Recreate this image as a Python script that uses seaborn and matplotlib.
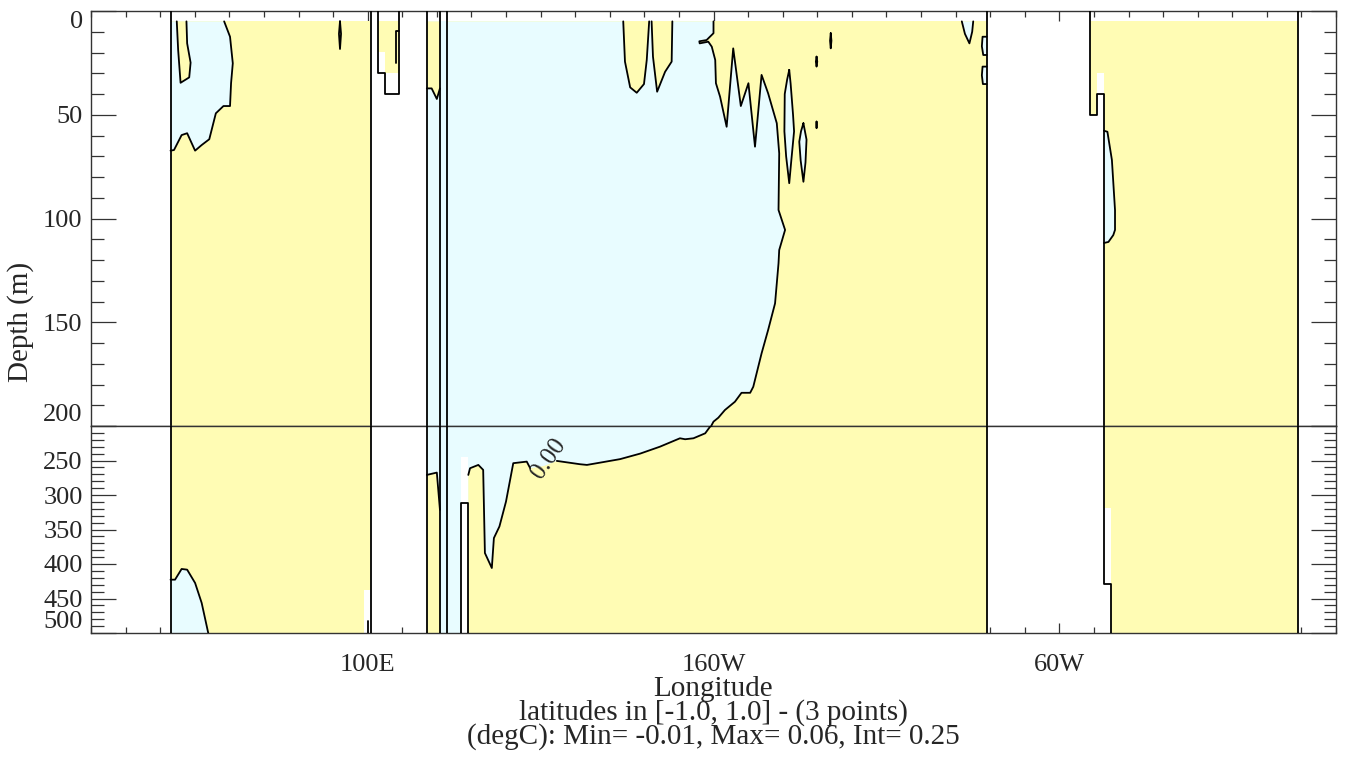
import numpy as np
import matplotlib
matplotlib.use("Agg")
import matplotlib.pyplot as plt
import seaborn as sns

# ---------------- data (lon in degrees east, depth in m) ----------------
xtick_pos = [100, 200, 300]
xtick_lab = ["100E", "160W", "60W"]
ytick_top = [0, 50, 100, 150, 200]
ytick_bot = [200, 250, 300, 350, 400, 450, 500]

# ocean basins with data (positive field, yellow)
indian_lon = [43.0, 101.0, 101.0, 43.0]
indian_dep = [5, 5, 500, 500]
sunda_lon = [102.9, 109.1, 109.1, 105.0, 105.0, 102.9]
sunda_dep = [5, 5, 29.9, 29.9, 19.9, 19.9]
pacific_lon = [123.0, 279.0, 279.0, 123.0]
pacific_dep = [5, 5, 500, 500]
atlantic_lon = [308.9, 369.0, 369.0, 315.0, 315.0, 312.9, 312.9, 310.9, 310.9, 308.9]
atlantic_dep = [5, 5, 500, 500, 428.5, 428.5, 40, 40, 50.1, 50.1]

# narrow straits column (negative background)
strait_lon = [117.1, 123.0, 123.0, 117.1]
strait_dep = [5, 5, 500, 500]

# zero isoline pieces
ind_top_lon = [58.5, 60.2, 61.0, 60.5, 60.2, 58.3, 56.1, 54.2, 52.0, 50.1, 47.8, 46.2, 44.0, 43.0]
ind_top_dep = [5, 12.4, 25.2, 34.8, 45.8, 45.8, 49.3, 61.8, 64.6, 67.3, 58.9, 59.8, 67.0, 67.3]
ind_fin_lon = [44.8, 45.2, 45.9, 48.4, 48.8, 47.8, 47.6]
ind_fin_dep = [5, 18.8, 34.6, 32.0, 24.9, 15.6, 5]
ind_bot_lon = [43.0, 44.3, 46.2, 47.8, 50.1, 52.0, 53.9]
ind_bot_dep = [422.7, 422.7, 407.2, 408.2, 427.5, 456.4, 500]
str_top_lon = [117.1, 118.5, 120.0, 120.9]
str_top_dep = [37.3, 37.3, 42.4, 37.3]
str_bot_lon = [117.1, 120.0, 120.9]
str_bot_dep = [270.9, 267.5, 321.5]
pac_w_lon = [129.1, 129.6, 132.0, 133.4, 133.9, 135.9, 136.5, 138.1, 140.0, 142.1, 146.0, 147.0]
pac_w_dep = [270.9, 261.2, 256.4, 263.6, 384.1, 405.8, 362.4, 345.6, 309.5, 253.9, 251.6, 261.2]
pac_e_lon = [154.7, 161.4, 163.4, 167.2, 173.0, 178.8, 184.5, 190.3, 191.8, 194.2, 197.6, 199.0,
             200.0, 201.4, 203.3, 206.2, 208.1, 210.6, 211.5, 213.9, 215.8, 217.8, 218.8, 219.0,
             220.7, 218.8, 219.0, 218.3, 215.8, 213.9, 212.0, 210.1, 207.9, 205.7, 203.8, 201.9,
             200.7, 200.5, 199.5, 198.5, 196.0, 195.9, 198.0, 200.0, 200.0]
pac_e_dep = [250.6, 255.4, 256.4, 253.1, 248.0, 240.0, 230.0, 217.8, 219.2, 217.8, 210.6, 201.0,
             197.9, 196.0, 192.3, 188.3, 184.0, 184.0, 181.1, 165.0, 153.7, 140.9, 121.6, 115.2,
             105.5, 95.9, 68.6, 54.1, 39.7, 30.8, 65.4, 34.8, 45.8, 18.0, 55.8, 41.3,
             34.8, 23.6, 17.2, 14.8, 15.6, 14.6, 14.0, 10.7, 5]
fin_a_lon = [173.9, 174.4, 175.9, 177.8, 179.9, 180.7, 181.4]
fin_a_dep = [5, 24.4, 36.8, 39.4, 35.2, 23.6, 5]
fin_b_lon = [182.1, 182.5, 183.7, 186.0, 187.9, 188.1]
fin_b_dep = [5, 22.0, 38.9, 29.3, 24.4, 5]
lens1_lon = [221.9, 222.3, 223.0, 223.3, 222.5, 221.9, 221.0, 220.5, 220.6, 221.3, 221.9]
lens1_dep = [28.4, 35, 50, 58, 72, 83.0, 70, 58, 40, 33, 28.4]
lens2_lon = [226.0, 226.9, 226.6, 226.0, 225.2, 224.8, 225.3, 226.0]
lens2_dep = [54.1, 62, 73, 82.3, 72, 63, 58, 54.1]
fin_c_lon = [271.8, 272.7, 274.0, 274.8, 275.1]
fin_c_dep = [5, 11, 15.6, 10, 5]
east1_lon = [279.0, 277.8, 277.6, 278.0, 279.0]
east1_dep = [12.4, 12.4, 17, 21.2, 21.2]
east2_lon = [279.0, 277.8, 277.6, 277.9, 279.0]
east2_dep = [26.8, 26.8, 31, 35.2, 35.2]
atl_lon = [312.9, 313.9, 315.2, 316.1, 316.1, 315.6, 314.2, 312.9]
atl_dep = [57.7, 58.2, 71.8, 95.9, 105.5, 108.0, 111.3, 111.8]
dot1_lon = [92.0, 92.3, 92.0, 91.7, 92.0]
dot1_dep = [5, 11, 18.3, 11, 5]
dot2_lon = [229.8, 230.0, 229.8, 229.6, 229.8]
dot2_dep = [22.0, 24.4, 26.8, 24.4, 22.0]
dot3_lon = [233.9, 234.1, 233.9, 233.7, 233.9]
dot3_dep = [10.7, 14.3, 18.0, 14.3, 10.7]
dot4_lon = [229.8, 229.9, 229.8, 229.7, 229.8]
dot4_dep = [53.3, 54.9, 56.5, 54.9, 53.3]

# land / missing-data outlines
coast_lon = [[43.0, 43.0], [101.0, 101.0], [117.1, 117.1], [120.9, 120.9], [123.0, 123.0],
             [279.0, 279.0], [369.0, 369.0], [100.0, 100.0],
             [102.9, 102.9, 105.0, 105.0, 109.1, 109.1],
             [109.1, 108.1, 108.1],
             [127.0, 127.0, 129.1, 129.1],
             [308.9, 308.9, 310.9, 310.9, 312.9, 312.9, 315.0, 315.0]]
coast_dep = [[0, 500], [0, 500], [0, 500], [0, 500], [0, 500],
             [0, 500], [0, 500], [482, 500],
             [0, 29.9, 29.9, 40, 40, 0],
             [9.6, 9.6, 24.9],
             [500, 311.3, 311.3, 500],
             [0, 50.1, 50.1, 40, 40, 428.5, 428.5, 500]]

# white gaps (no data)
gap_lon = [[98.9, 100.9], [127.0, 129.1], [310.9, 312.9], [312.9, 315.0]]
gap_dep = [[437, 500], [244.4, 500], [29.9, 40], [318.6, 428.5]]

YELLOW = "#fffcb4"
CYAN = "#e8fcff"

# polygons built from the isoline pieces
pac_neg_lon = [123.0] + fin_a_lon + fin_b_lon + pac_e_lon[::-1] + [151.0] + pac_w_lon[::-1] + [129.1, 123.0]
pac_neg_dep = [5] + fin_a_dep + fin_b_dep + pac_e_dep[::-1] + [258.0] + pac_w_dep[::-1] + [500, 500]

fills = [
    (indian_lon, indian_dep, YELLOW),
    (sunda_lon, sunda_dep, YELLOW),
    (pacific_lon, pacific_dep, YELLOW),
    (atlantic_lon, atlantic_dep, YELLOW),
    (strait_lon, strait_dep, CYAN),
    (str_top_lon + [120.9, 117.1], str_top_dep + [5, 5], YELLOW),
    (str_bot_lon + [120.9, 117.1], str_bot_dep + [500, 500], YELLOW),
    ([43.0] + ind_top_lon, [5] + ind_top_dep, CYAN),
    (ind_fin_lon, ind_fin_dep, YELLOW),
    (ind_bot_lon + [43.0], ind_bot_dep + [500], CYAN),
    (pac_neg_lon, pac_neg_dep, CYAN),
    (lens1_lon, lens1_dep, CYAN),
    (lens2_lon, lens2_dep, CYAN),
    (fin_c_lon, fin_c_dep, CYAN),
    (east1_lon, east1_dep, CYAN),
    (east2_lon, east2_dep, CYAN),
    (atl_lon, atl_dep, CYAN),
]

contours = [
    (ind_top_lon, ind_top_dep), (ind_fin_lon, ind_fin_dep), (ind_bot_lon, ind_bot_dep),
    (str_top_lon, str_top_dep), (str_bot_lon, str_bot_dep),
    (pac_w_lon, pac_w_dep), (pac_e_lon, pac_e_dep),
    (fin_a_lon, fin_a_dep), (fin_b_lon, fin_b_dep),
    (lens1_lon, lens1_dep), (lens2_lon, lens2_dep),
    (fin_c_lon, fin_c_dep), (east1_lon, east1_dep), (east2_lon, east2_dep),
    (atl_lon, atl_dep),
    (dot1_lon, dot1_dep), (dot2_lon, dot2_dep), (dot3_lon, dot3_dep), (dot4_lon, dot4_dep),
]

# ---------------- figure ----------------
sns.set_style("ticks")
plt.rcParams["font.family"] = ["Liberation Serif", "DejaVu Serif"]

W, H = 1347, 764
fig = plt.figure(figsize=(W / 100, H / 100), dpi=100)
ax_top = fig.add_axes([91 / W, 1 - 426 / H, 1245 / W, 415 / H])
ax_bot = fig.add_axes([91 / W, 1 - 633 / H, 1245 / W, 207 / H])

for ax in (ax_top, ax_bot):
    for lon, dep, col in fills:
        ax.fill(lon, dep, color=col, lw=0, zorder=1)
    for lon, dep in zip(gap_lon, gap_dep):
        ax.fill([lon[0], lon[1], lon[1], lon[0]], [dep[0], dep[0], dep[1], dep[1]],
                color="white", lw=0, zorder=2)
    for lon, dep in contours:
        sns.lineplot(x=lon, y=dep, sort=False, estimator=None, color="black",
                     lw=1.3, ax=ax, zorder=3)
    for lon, dep in zip(coast_lon, coast_dep):
        sns.lineplot(x=lon, y=dep, sort=False, estimator=None, color="black",
                     lw=1.3, ax=ax, zorder=3)
    ax.set_xlim(20, 380)
    ax.set_xticks(xtick_pos)
    ax.set_xticks(np.arange(20, 381, 10), minor=True)
    ax.set_xlabel("")
    ax.set_ylabel("")
    for sp in ax.spines.values():
        sp.set_color("#333333")
        sp.set_linewidth(1.0)
        sp.set_visible(True)
    ax.tick_params(axis="y", which="both", direction="in", left=True, right=True,
                   labelsize=19, pad=6, color="#333333", width=0.9)
    ax.tick_params(axis="y", which="major", length=18)
    ax.tick_params(axis="y", which="minor", length=9)
    ax.tick_params(axis="x", which="both", direction="in", color="#333333", width=0.9)
    ax.tick_params(axis="x", which="major", length=7)
    ax.tick_params(axis="x", which="minor", length=4)

ax_top.set_ylim(200, 0)
ax_top.set_yticks(ytick_top)
ax_top.set_yticks(np.arange(0, 201, 10), minor=True)
ax_top.set_yticklabels([str(v) for v in ytick_top])
ax_top.set_xticklabels([])
ax_top.tick_params(axis="x", which="both", top=True, bottom=False, labelbottom=False)

ax_bot.set_ylim(500, 200)
ax_bot.set_yticks(ytick_bot)
ax_bot.set_yticks(np.arange(200, 501, 10), minor=True)
ax_bot.set_yticklabels([""] + [str(v) for v in ytick_bot[1:]])
ax_bot.set_xticklabels(xtick_lab)
ax_bot.tick_params(axis="x", which="both", top=False, bottom=True, labelsize=19, pad=15)

# IDL style: end labels pushed inside the axis
ax_top.yaxis.get_major_ticks()[0].label1.set_verticalalignment("top")
ax_top.yaxis.get_major_ticks()[-1].label1.set_verticalalignment("bottom")
ax_bot.yaxis.get_major_ticks()[-1].label1.set_verticalalignment("bottom")

ax_bot.text(152.2, 247, "0.00", rotation=55, ha="center", va="center", fontsize=18, zorder=4)

fig.text(21 / W, 1 - 322 / H, "Depth (m)", rotation=90, ha="center", va="center", fontsize=21)
fig.text(713.5 / W, 1 - 676 / H,
         "Longitude\nlatitudes in [-1.0, 1.0] - (3 points)\n(degC): Min= -0.01, Max= 0.06, Int= 0.25",
         ha="center", va="top", multialignment="center", linespacing=0.86, fontsize=21)

fig.savefig("out.png", dpi=100)
